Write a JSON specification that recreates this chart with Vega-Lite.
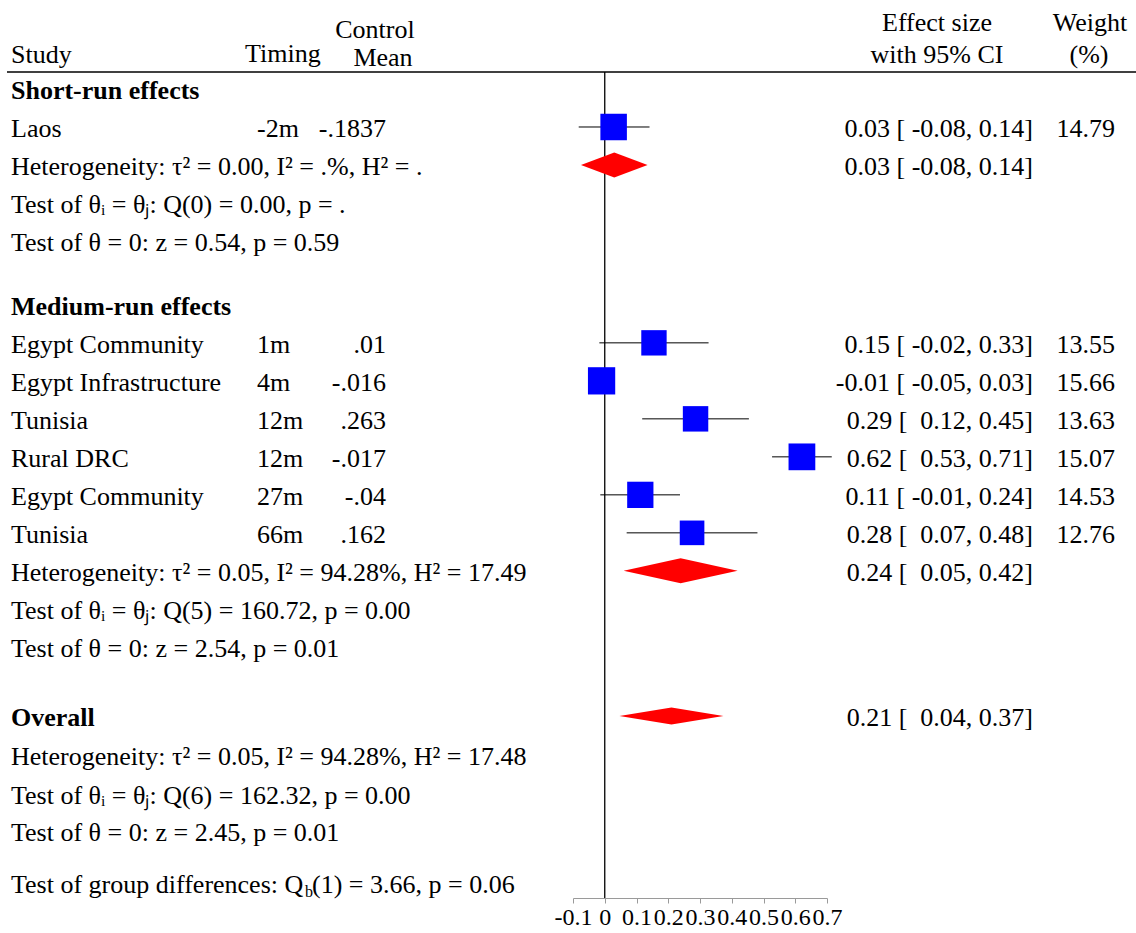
{
  "$schema": "https://vega.github.io/schema/vega-lite/v6.json",
  "padding": 0,
  "spacing": 0,
  "bounds": "flush",
  "background": "white",
  "config": {
    "view": {"stroke": null},
    "font": "Liberation Serif",
    "text": {"font": "Liberation Serif", "fontSize": 26, "baseline": "middle", "dy": 2, "color": "black"}
  },
  "datasets": {
    "studies": [
      {"study": "Laos", "timing": "-2m", "mean": "-.1837", "es": 0.028, "lo": -0.082, "hi": 0.141, "weight": 14.79, "ci": "0.03 [ -0.08, 0.14]", "row": 1},
      {"study": "Egypt Community", "timing": "1m", "mean": ".01", "es": 0.155, "lo": -0.017, "hi": 0.327, "weight": 13.55, "ci": "0.15 [ -0.02, 0.33]", "row": 6.68},
      {"study": "Egypt Infrastructure", "timing": "4m", "mean": "-.016", "es": -0.01, "lo": -0.05, "hi": 0.03, "weight": 15.66, "ci": "-0.01 [ -0.05, 0.03]", "row": 7.68},
      {"study": "Tunisia", "timing": "12m", "mean": ".263", "es": 0.286, "lo": 0.118, "hi": 0.454, "weight": 13.63, "ci": "0.29 [\u00a0 0.12, 0.45]", "row": 8.68},
      {"study": "Rural DRC", "timing": "12m", "mean": "-.017", "es": 0.621, "lo": 0.527, "hi": 0.715, "weight": 15.07, "ci": "0.62 [\u00a0 0.53, 0.71]", "row": 9.68},
      {"study": "Egypt Community", "timing": "27m", "mean": "-.04", "es": 0.112, "lo": -0.014, "hi": 0.237, "weight": 14.53, "ci": "0.11 [ -0.01, 0.24]", "row": 10.68},
      {"study": "Tunisia", "timing": "66m", "mean": ".162", "es": 0.275, "lo": 0.069, "hi": 0.481, "weight": 12.76, "ci": "0.28 [\u00a0 0.07, 0.48]", "row": 11.68}
    ],
    "summary": [
      {"group": "Short", "est": 0.03, "lo": -0.08, "hi": 0.14, "ci": "0.03 [ -0.08, 0.14]", "row": 2},
      {"group": "Medium", "est": 0.239, "lo": 0.05, "hi": 0.42, "ci": "0.24 [\u00a0 0.05, 0.42]", "row": 12.68},
      {"group": "Overall", "est": 0.21, "lo": 0.04, "hi": 0.37, "ci": "0.21 [\u00a0 0.04, 0.37]", "row": 16.5}
    ],
    "notes": [
      {"label": "Short-run effects", "kind": "group", "row": 0},
      {"label": "Heterogeneity: τ² = 0.00, I² = .%, H² = .", "kind": "note", "row": 2},
      {"label": "Test of θᵢ = θⱼ: Q(0) = 0.00, p = .", "kind": "note", "row": 3},
      {"label": "Test of θ = 0: z = 0.54, p = 0.59", "kind": "note", "row": 4},
      {"label": "Medium-run effects", "kind": "group", "row": 5.68},
      {"label": "Heterogeneity: τ² = 0.05, I² = 94.28%, H² = 17.49", "kind": "note", "row": 12.68},
      {"label": "Test of θᵢ = θⱼ: Q(5) = 160.72, p = 0.00", "kind": "note", "row": 13.68},
      {"label": "Test of θ = 0: z = 2.54, p = 0.01", "kind": "note", "row": 14.68},
      {"label": "Overall", "kind": "group", "row": 16.5},
      {"label": "Heterogeneity: τ² = 0.05, I² = 94.28%, H² = 17.48", "kind": "note", "row": 17.53},
      {"label": "Test of θᵢ = θⱼ: Q(6) = 162.32, p = 0.00", "kind": "note", "row": 18.55},
      {"label": "Test of θ = 0: z = 2.45, p = 0.01", "kind": "note", "row": 19.53},
      {"label": "Test of group differences: Q", "kind": "note", "row": 20.9},
      {"label": "b", "kind": "sub", "row": 20.9},
      {"label": "(1) = 3.66, p = 0.06", "kind": "tail", "row": 20.9}
    ],
    "headers": [
      {"label": "Study", "col": "study", "row": -0.947},
      {"label": "Timing", "col": "timing", "row": -0.97},
      {"label": "Control", "col": "control", "row": -1.597},
      {"label": "Mean", "col": "meanh", "row": -0.86},
      {"label": "Effect size", "col": "es", "row": -1.79},
      {"label": "with 95% CI", "col": "es", "row": -0.947},
      {"label": "Weight", "col": "wt", "row": -1.79},
      {"label": "(%)", "col": "pct", "row": -0.947}
    ]
  },
  "hconcat": [
    {
      "width": 573,
      "height": 898,
      "layer": [
        {
          "data": {"values": [{}]},
          "mark": {"type": "rule", "color": "black", "strokeWidth": 1.3},
          "encoding": {
            "y": {"datum": -0.447, "type": "quantitative", "scale": {"domain": [-2.342, 21.289], "reverse": true, "nice": false, "zero": false}, "axis": null},
            "x": {"value": 7},
            "x2": {"value": "width"}
          }
        },
        {
          "data": {"name": "headers"},
          "transform": [{"filter": "datum.col == 'study'"}],
          "mark": {"type": "text", "align": "left", "x": 11},
          "encoding": {
            "y": {"field": "row", "type": "quantitative", "scale": {"domain": [-2.342, 21.289], "reverse": true, "nice": false, "zero": false}, "axis": null},
            "text": {"field": "label"}
          }
        },
        {
          "data": {"name": "headers"},
          "transform": [{"filter": "datum.col == 'timing'"}],
          "mark": {"type": "text", "align": "left", "x": 245},
          "encoding": {
            "y": {"field": "row", "type": "quantitative", "scale": {"domain": [-2.342, 21.289], "reverse": true, "nice": false, "zero": false}, "axis": null},
            "text": {"field": "label"}
          }
        },
        {
          "data": {"name": "headers"},
          "transform": [{"filter": "datum.col == 'control'"}],
          "mark": {"type": "text", "align": "center", "x": 375},
          "encoding": {
            "y": {"field": "row", "type": "quantitative", "scale": {"domain": [-2.342, 21.289], "reverse": true, "nice": false, "zero": false}, "axis": null},
            "text": {"field": "label"}
          }
        },
        {
          "data": {"name": "headers"},
          "transform": [{"filter": "datum.col == 'meanh'"}],
          "mark": {"type": "text", "align": "center", "x": 383},
          "encoding": {
            "y": {"field": "row", "type": "quantitative", "scale": {"domain": [-2.342, 21.289], "reverse": true, "nice": false, "zero": false}, "axis": null},
            "text": {"field": "label"}
          }
        },
        {
          "data": {"name": "studies"},
          "mark": {"type": "text", "align": "left", "x": 11},
          "encoding": {
            "y": {"field": "row", "type": "quantitative", "scale": {"domain": [-2.342, 21.289], "reverse": true, "nice": false, "zero": false}, "axis": null},
            "text": {"field": "study"}
          }
        },
        {
          "data": {"name": "studies"},
          "mark": {"type": "text", "align": "left", "x": 257},
          "encoding": {
            "y": {"field": "row", "type": "quantitative", "scale": {"domain": [-2.342, 21.289], "reverse": true, "nice": false, "zero": false}, "axis": null},
            "text": {"field": "timing"}
          }
        },
        {
          "data": {"name": "studies"},
          "mark": {"type": "text", "align": "right", "x": 386},
          "encoding": {
            "y": {"field": "row", "type": "quantitative", "scale": {"domain": [-2.342, 21.289], "reverse": true, "nice": false, "zero": false}, "axis": null},
            "text": {"field": "mean"}
          }
        },
        {
          "data": {"name": "notes"},
          "transform": [{"filter": "datum.kind == 'group'"}],
          "mark": {"type": "text", "align": "left", "x": 11, "fontWeight": "bold"},
          "encoding": {
            "y": {"field": "row", "type": "quantitative", "scale": {"domain": [-2.342, 21.289], "reverse": true, "nice": false, "zero": false}, "axis": null},
            "text": {"field": "label"}
          }
        },
        {
          "data": {"name": "notes"},
          "transform": [{"filter": "datum.kind == 'note'"}],
          "mark": {"type": "text", "align": "left", "x": 11},
          "encoding": {
            "y": {"field": "row", "type": "quantitative", "scale": {"domain": [-2.342, 21.289], "reverse": true, "nice": false, "zero": false}, "axis": null},
            "text": {"field": "label"}
          }
        },
        {
          "data": {"name": "notes"},
          "transform": [{"filter": "datum.kind == 'sub'"}],
          "mark": {"type": "text", "align": "left", "x": 305, "fontSize": 16, "dy": 9},
          "encoding": {
            "y": {"field": "row", "type": "quantitative", "scale": {"domain": [-2.342, 21.289], "reverse": true, "nice": false, "zero": false}, "axis": null},
            "text": {"field": "label"}
          }
        },
        {
          "data": {"name": "notes"},
          "transform": [{"filter": "datum.kind == 'tail'"}],
          "mark": {"type": "text", "align": "left", "x": 312},
          "encoding": {
            "y": {"field": "row", "type": "quantitative", "scale": {"domain": [-2.342, 21.289], "reverse": true, "nice": false, "zero": false}, "axis": null},
            "text": {"field": "label"}
          }
        }
      ]
    },
    {
      "width": 254,
      "height": 898,
      "layer": [
        {
          "data": {"values": [{}]},
          "mark": {"type": "rule", "color": "black", "strokeWidth": 1.3},
          "encoding": {
            "y": {"datum": -0.447, "type": "quantitative", "scale": {"domain": [-2.342, 21.289], "reverse": true, "nice": false, "zero": false}, "axis": null}
          }
        },
        {
          "data": {"values": [{}]},
          "mark": {"type": "rule", "color": "black", "strokeWidth": 1.3},
          "encoding": {
            "x": {"datum": 0, "type": "quantitative", "scale": {"domain": [-0.1, 0.7], "nice": false, "zero": false}, "axis": {"values": [-0.1, 0, 0.1, 0.2, 0.3, 0.4, 0.5, 0.6, 0.7], "labelExpr": "datum.value < -0.01 ? '-' + format(-datum.value, '.1f') : (abs(datum.value) < 0.01 ? '0' : format(datum.value, '.1f'))", "title": null, "grid": false, "domainColor": "#9a9a9a", "tickColor": "#9a9a9a", "tickSize": 5, "labelFont": "Liberation Serif", "labelFontSize": 24, "labelColor": "black", "labelPadding": 2, "labelFlush": false, "labelOverlap": false, "labelBound": false}},
            "y": {"datum": -0.447, "type": "quantitative", "scale": {"domain": [-2.342, 21.289], "reverse": true, "nice": false, "zero": false}, "axis": null},
            "y2": {"datum": 21.289}
          }
        },
        {
          "data": {"name": "studies"},
          "mark": {"type": "rule", "color": "black", "strokeWidth": 1},
          "encoding": {
            "x": {"field": "lo", "type": "quantitative", "scale": {"domain": [-0.1, 0.7], "nice": false, "zero": false}, "axis": {"values": [-0.1, 0, 0.1, 0.2, 0.3, 0.4, 0.5, 0.6, 0.7], "labelExpr": "datum.value < -0.01 ? '-' + format(-datum.value, '.1f') : (abs(datum.value) < 0.01 ? '0' : format(datum.value, '.1f'))", "title": null, "grid": false, "domainColor": "#9a9a9a", "tickColor": "#9a9a9a", "tickSize": 5, "labelFont": "Liberation Serif", "labelFontSize": 24, "labelColor": "black", "labelPadding": 2, "labelFlush": false, "labelOverlap": false, "labelBound": false}},
            "x2": {"field": "hi"},
            "y": {"field": "row", "type": "quantitative", "scale": {"domain": [-2.342, 21.289], "reverse": true, "nice": false, "zero": false}, "axis": null}
          }
        },
        {
          "data": {"name": "studies"},
          "mark": {"type": "point", "shape": "square", "filled": true, "color": "#0000FF", "opacity": 1},
          "encoding": {
            "x": {"field": "es", "type": "quantitative", "scale": {"domain": [-0.1, 0.7], "nice": false, "zero": false}, "axis": {"values": [-0.1, 0, 0.1, 0.2, 0.3, 0.4, 0.5, 0.6, 0.7], "labelExpr": "datum.value < -0.01 ? '-' + format(-datum.value, '.1f') : (abs(datum.value) < 0.01 ? '0' : format(datum.value, '.1f'))", "title": null, "grid": false, "domainColor": "#9a9a9a", "tickColor": "#9a9a9a", "tickSize": 5, "labelFont": "Liberation Serif", "labelFontSize": 24, "labelColor": "black", "labelPadding": 2, "labelFlush": false, "labelOverlap": false, "labelBound": false}},
            "y": {"field": "row", "type": "quantitative", "scale": {"domain": [-2.342, 21.289], "reverse": true, "nice": false, "zero": false}, "axis": null},
            "size": {"field": "weight", "type": "quantitative", "scale": {"type": "linear", "domain": [0, 16], "range": [0, 760], "zero": true}, "legend": null}
          }
        },
        {
          "data": {"name": "summary"},
          "transform": [{"filter": "datum.group == 'Short'"}],
          "mark": {"type": "point", "filled": true, "color": "#FF0000", "opacity": 1, "size": 4436, "shape": "M-1,0L0,-0.375L1,0L0,0.375Z"},
          "encoding": {
            "x": {"field": "est", "type": "quantitative", "scale": {"domain": [-0.1, 0.7], "nice": false, "zero": false}, "axis": {"values": [-0.1, 0, 0.1, 0.2, 0.3, 0.4, 0.5, 0.6, 0.7], "labelExpr": "datum.value < -0.01 ? '-' + format(-datum.value, '.1f') : (abs(datum.value) < 0.01 ? '0' : format(datum.value, '.1f'))", "title": null, "grid": false, "domainColor": "#9a9a9a", "tickColor": "#9a9a9a", "tickSize": 5, "labelFont": "Liberation Serif", "labelFontSize": 24, "labelColor": "black", "labelPadding": 2, "labelFlush": false, "labelOverlap": false, "labelBound": false}},
            "y": {"field": "row", "type": "quantitative", "scale": {"domain": [-2.342, 21.289], "reverse": true, "nice": false, "zero": false}, "axis": null}
          }
        },
        {
          "data": {"name": "summary"},
          "transform": [{"filter": "datum.group == 'Medium'"}],
          "mark": {"type": "point", "filled": true, "color": "#FF0000", "opacity": 1, "size": 12996, "shape": "M-1,0L0,-0.219L1,0L0,0.219Z"},
          "encoding": {
            "x": {"field": "est", "type": "quantitative", "scale": {"domain": [-0.1, 0.7], "nice": false, "zero": false}, "axis": {"values": [-0.1, 0, 0.1, 0.2, 0.3, 0.4, 0.5, 0.6, 0.7], "labelExpr": "datum.value < -0.01 ? '-' + format(-datum.value, '.1f') : (abs(datum.value) < 0.01 ? '0' : format(datum.value, '.1f'))", "title": null, "grid": false, "domainColor": "#9a9a9a", "tickColor": "#9a9a9a", "tickSize": 5, "labelFont": "Liberation Serif", "labelFontSize": 24, "labelColor": "black", "labelPadding": 2, "labelFlush": false, "labelOverlap": false, "labelBound": false}},
            "y": {"field": "row", "type": "quantitative", "scale": {"domain": [-2.342, 21.289], "reverse": true, "nice": false, "zero": false}, "axis": null}
          }
        },
        {
          "data": {"name": "summary"},
          "transform": [{"filter": "datum.group == 'Overall'"}],
          "mark": {"type": "point", "filled": true, "color": "#FF0000", "opacity": 1, "size": 10816, "shape": "M-1,0L0,-0.163L1,0L0,0.163Z"},
          "encoding": {
            "x": {"field": "est", "type": "quantitative", "scale": {"domain": [-0.1, 0.7], "nice": false, "zero": false}, "axis": {"values": [-0.1, 0, 0.1, 0.2, 0.3, 0.4, 0.5, 0.6, 0.7], "labelExpr": "datum.value < -0.01 ? '-' + format(-datum.value, '.1f') : (abs(datum.value) < 0.01 ? '0' : format(datum.value, '.1f'))", "title": null, "grid": false, "domainColor": "#9a9a9a", "tickColor": "#9a9a9a", "tickSize": 5, "labelFont": "Liberation Serif", "labelFontSize": 24, "labelColor": "black", "labelPadding": 2, "labelFlush": false, "labelOverlap": false, "labelBound": false}},
            "y": {"field": "row", "type": "quantitative", "scale": {"domain": [-2.342, 21.289], "reverse": true, "nice": false, "zero": false}, "axis": null}
          }
        }
      ]
    },
    {
      "width": 309,
      "height": 898,
      "layer": [
        {
          "data": {"values": [{}]},
          "mark": {"type": "rule", "color": "black", "strokeWidth": 1.3},
          "encoding": {
            "y": {"datum": -0.447, "type": "quantitative", "scale": {"domain": [-2.342, 21.289], "reverse": true, "nice": false, "zero": false}, "axis": null}
          }
        },
        {
          "data": {"name": "headers"},
          "transform": [{"filter": "datum.col == 'es'"}],
          "mark": {"type": "text", "align": "center", "x": 110},
          "encoding": {
            "y": {"field": "row", "type": "quantitative", "scale": {"domain": [-2.342, 21.289], "reverse": true, "nice": false, "zero": false}, "axis": null},
            "text": {"field": "label"}
          }
        },
        {
          "data": {"name": "headers"},
          "transform": [{"filter": "datum.col == 'wt'"}],
          "mark": {"type": "text", "align": "center", "x": 263},
          "encoding": {
            "y": {"field": "row", "type": "quantitative", "scale": {"domain": [-2.342, 21.289], "reverse": true, "nice": false, "zero": false}, "axis": null},
            "text": {"field": "label"}
          }
        },
        {
          "data": {"name": "headers"},
          "transform": [{"filter": "datum.col == 'pct'"}],
          "mark": {"type": "text", "align": "center", "x": 262},
          "encoding": {
            "y": {"field": "row", "type": "quantitative", "scale": {"domain": [-2.342, 21.289], "reverse": true, "nice": false, "zero": false}, "axis": null},
            "text": {"field": "label"}
          }
        },
        {
          "data": {"name": "studies"},
          "mark": {"type": "text", "align": "right", "x": 206},
          "encoding": {
            "y": {"field": "row", "type": "quantitative", "scale": {"domain": [-2.342, 21.289], "reverse": true, "nice": false, "zero": false}, "axis": null},
            "text": {"field": "ci"}
          }
        },
        {
          "data": {"name": "summary"},
          "mark": {"type": "text", "align": "right", "x": 206},
          "encoding": {
            "y": {"field": "row", "type": "quantitative", "scale": {"domain": [-2.342, 21.289], "reverse": true, "nice": false, "zero": false}, "axis": null},
            "text": {"field": "ci"}
          }
        },
        {
          "data": {"name": "studies"},
          "mark": {"type": "text", "align": "right", "x": 288},
          "encoding": {
            "y": {"field": "row", "type": "quantitative", "scale": {"domain": [-2.342, 21.289], "reverse": true, "nice": false, "zero": false}, "axis": null},
            "text": {"field": "weight", "type": "quantitative", "format": ".2f"}
          }
        }
      ]
    }
  ]
}
